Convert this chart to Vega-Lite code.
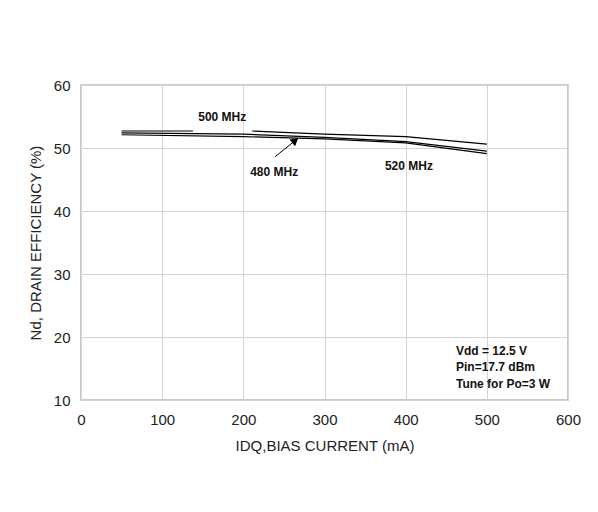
{
  "$schema": "https://vega.github.io/schema/vega-lite/v6.json",
  "width": 487,
  "height": 315,
  "autosize": {"type": "none"},
  "padding": {"left": 81, "top": 85, "right": 30, "bottom": 112},
  "background": "white",
  "config": {
    "font": "Liberation Sans",
    "view": {"stroke": "#b8b8b8", "strokeWidth": 1.5},
    "axis": {
      "grid": true,
      "gridColor": "#d4d4d4",
      "gridWidth": 1,
      "ticks": false,
      "domain": false,
      "labelFlush": false,
      "labelOverlap": false,
      "labelFont": "Liberation Sans",
      "labelFontSize": 15,
      "labelColor": "#222222",
      "titleFont": "Liberation Sans",
      "titleFontSize": 15,
      "titleFontWeight": "normal",
      "titleColor": "#222222"
    }
  },
  "datasets": {
    "lines": [
      {"x": 50, "y": 52.7, "series": "500 MHz", "seg": "a"},
      {"x": 138, "y": 52.7, "series": "500 MHz", "seg": "a"},
      {"x": 211, "y": 52.7, "series": "500 MHz", "seg": "b"},
      {"x": 300, "y": 52.2, "series": "500 MHz", "seg": "b"},
      {"x": 400, "y": 51.8, "series": "500 MHz", "seg": "b"},
      {"x": 500, "y": 50.6, "series": "500 MHz", "seg": "b"},
      {"x": 50, "y": 52.4, "series": "480 MHz", "seg": "a"},
      {"x": 200, "y": 52.2, "series": "480 MHz", "seg": "a"},
      {"x": 300, "y": 51.7, "series": "480 MHz", "seg": "a"},
      {"x": 400, "y": 51.0, "series": "480 MHz", "seg": "a"},
      {"x": 500, "y": 49.5, "series": "480 MHz", "seg": "a"},
      {"x": 50, "y": 52.1, "series": "520 MHz", "seg": "a"},
      {"x": 200, "y": 51.8, "series": "520 MHz", "seg": "a"},
      {"x": 300, "y": 51.45, "series": "520 MHz", "seg": "a"},
      {"x": 400, "y": 50.8, "series": "520 MHz", "seg": "a"},
      {"x": 500, "y": 49.1, "series": "520 MHz", "seg": "a"}
    ],
    "labels": [
      {"x": 174, "y": 55.0, "text": "500 MHz"},
      {"x": 238, "y": 46.2, "text": "480 MHz"},
      {"x": 404, "y": 47.2, "text": "520 MHz"}
    ],
    "notes": [
      {"x": 462, "y": 17.8, "text": "Vdd = 12.5 V"},
      {"x": 462, "y": 15.2, "text": "Pin=17.7 dBm"},
      {"x": 462, "y": 12.6, "text": "Tune for Po=3 W"}
    ],
    "arrow": [
      {"x": 239, "y": 48.6, "x2": 264, "y2": 51.2}
    ]
  },
  "layer": [
    {
      "data": {"name": "lines"},
      "mark": {"type": "line", "color": "black", "strokeWidth": 1.2},
      "encoding": {
        "x": {
          "field": "x", "type": "quantitative",
          "scale": {"domain": [0, 600]},
          "axis": {"values": [0, 100, 200, 300, 400, 500, 600], "labelPadding": 12, "titlePadding": 11, "title": "IDQ,BIAS CURRENT (mA)"}
        },
        "y": {
          "field": "y", "type": "quantitative",
          "scale": {"domain": [10, 60]},
          "axis": {"values": [10, 20, 30, 40, 50, 60], "labelPadding": 11, "titlePadding": 10, "title": "Nd, DRAIN EFFICIENCY (%)"}
        },
        "detail": [{"field": "series"}, {"field": "seg"}]
      }
    },
    {
      "data": {"name": "arrow"},
      "mark": {"type": "rule", "color": "black", "strokeWidth": 1},
      "encoding": {
        "x": {"field": "x", "type": "quantitative"},
        "y": {"field": "y", "type": "quantitative"},
        "x2": {"field": "x2"},
        "y2": {"field": "y2"}
      }
    },
    {
      "data": {"name": "arrow"},
      "mark": {"type": "point", "shape": "triangle-up", "filled": true, "color": "black", "size": 80, "angle": 51, "opacity": 1},
      "encoding": {
        "x": {"field": "x2", "type": "quantitative"},
        "y": {"field": "y2", "type": "quantitative"}
      }
    },
    {
      "data": {"name": "labels"},
      "mark": {"type": "text", "font": "Liberation Sans", "fontSize": 12, "fontWeight": "bold", "color": "#111111", "align": "center", "baseline": "middle"},
      "encoding": {
        "x": {"field": "x", "type": "quantitative"},
        "y": {"field": "y", "type": "quantitative"},
        "text": {"field": "text"}
      }
    },
    {
      "data": {"name": "notes"},
      "mark": {"type": "text", "font": "Liberation Sans", "fontSize": 12, "fontWeight": "bold", "color": "#111111", "align": "left", "baseline": "middle"},
      "encoding": {
        "x": {"field": "x", "type": "quantitative"},
        "y": {"field": "y", "type": "quantitative"},
        "text": {"field": "text"}
      }
    }
  ]
}
